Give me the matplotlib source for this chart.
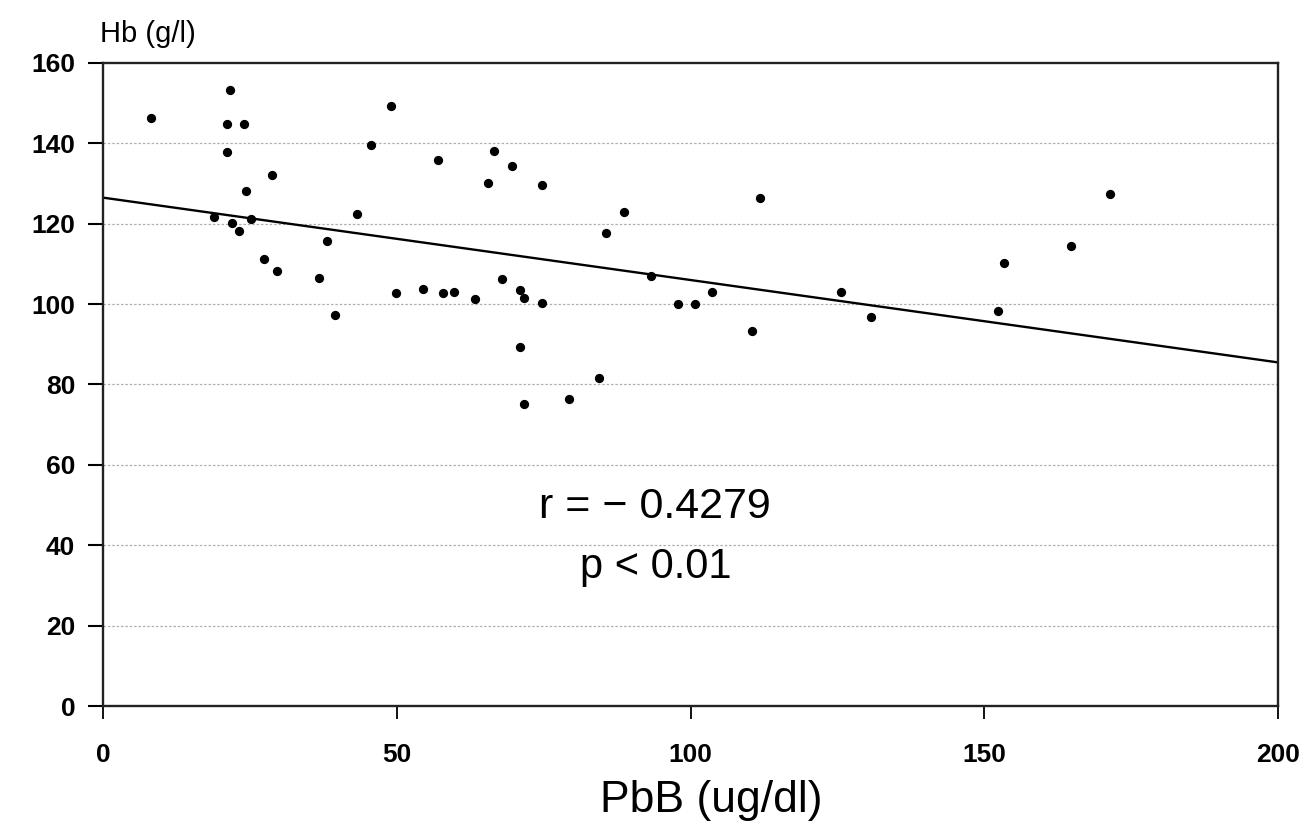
import matplotlib
matplotlib.use("Agg")
import matplotlib.pyplot as plt
import numpy as np

plt.rcParams["font.family"] = ["Liberation Sans", "DejaVu Sans"]

# PbB (ug/dl)
pbb = [8.2, 21.6, 21.1, 24.0, 21.1, 28.7, 24.3, 18.9, 21.9, 23.1, 25.2, 27.4, 29.6,
       36.7, 38.1, 39.5, 43.2, 45.6, 49.1, 57.1, 66.5, 69.7, 65.6, 74.7, 88.6, 85.7,
       49.8, 54.4, 57.8, 59.7, 63.4, 67.9, 70.9, 71.6, 74.7, 70.9, 71.6, 79.3, 84.5,
       93.2, 97.8, 100.7, 103.6, 110.4, 111.9, 125.7, 130.8, 152.4, 153.4, 164.8, 171.4]
# Hb (g/l)
hb = [146.4, 153.4, 144.7, 144.8, 137.8, 132.1, 128.2, 121.8, 120.1, 118.2, 121.2, 111.2, 108.3,
      106.4, 115.6, 97.4, 122.4, 139.6, 149.3, 135.9, 138.0, 134.4, 130.1, 129.7, 122.9, 117.8,
      102.7, 103.8, 102.8, 102.9, 101.2, 106.2, 103.5, 101.5, 100.3, 89.4, 75.2, 76.5, 81.5,
      107.0, 100.1, 100.1, 103.1, 93.2, 126.3, 102.9, 96.7, 98.2, 110.2, 114.5, 127.3]

# regression line
line_x = [0, 200]
line_y = [126.5, 85.5]

x_ticks = [0, 50, 100, 150, 200]
y_ticks = [0, 20, 40, 60, 80, 100, 120, 140, 160]

fig = plt.figure(figsize=(13.1, 8.21), dpi=100)
ax = fig.add_axes([103/1310, 1 - 706/821, (1278 - 103)/1310, (706 - 63)/821])

ax.set_xlim(0, 200)
ax.set_ylim(0, 160)

for g in y_ticks[1:-1]:
    ax.axhline(g, color="#b0b0b0", linestyle=(0, (2, 1.5)), linewidth=0.9, zorder=1)

ax.plot(line_x, line_y, color="black", linewidth=1.7, zorder=2)
ax.scatter(pbb, hb, s=32, color="black", zorder=3)

ax.set_xticks(x_ticks)
ax.set_yticks(y_ticks)
ax.set_xticklabels([str(v) for v in x_ticks], fontsize=19, fontweight="bold")
ax.set_yticklabels([str(v) for v in y_ticks], fontsize=19, fontweight="bold")
ax.tick_params(axis="y", direction="out", length=11, width=1.5, pad=9)
ax.tick_params(axis="x", direction="out", length=9, width=1.3, pad=18)

for sp in ax.spines.values():
    sp.set_linewidth(1.7)
    sp.set_color("#222222")

fig.text(100/1310, 1 - 34/821, "Hb (g/l)", fontsize=21, ha="left", va="center")
fig.text(711/1310, 1 - 812/821, "PbB (ug/dl)", fontsize=32, ha="center", va="baseline")

ax.text(94, 49.5, "r = \u2212 0.4279", fontsize=31, ha="center", va="center")
ax.text(94, 34.6, "p < 0.01", fontsize=30, ha="center", va="center")

fig.savefig("out.png", dpi=100)
